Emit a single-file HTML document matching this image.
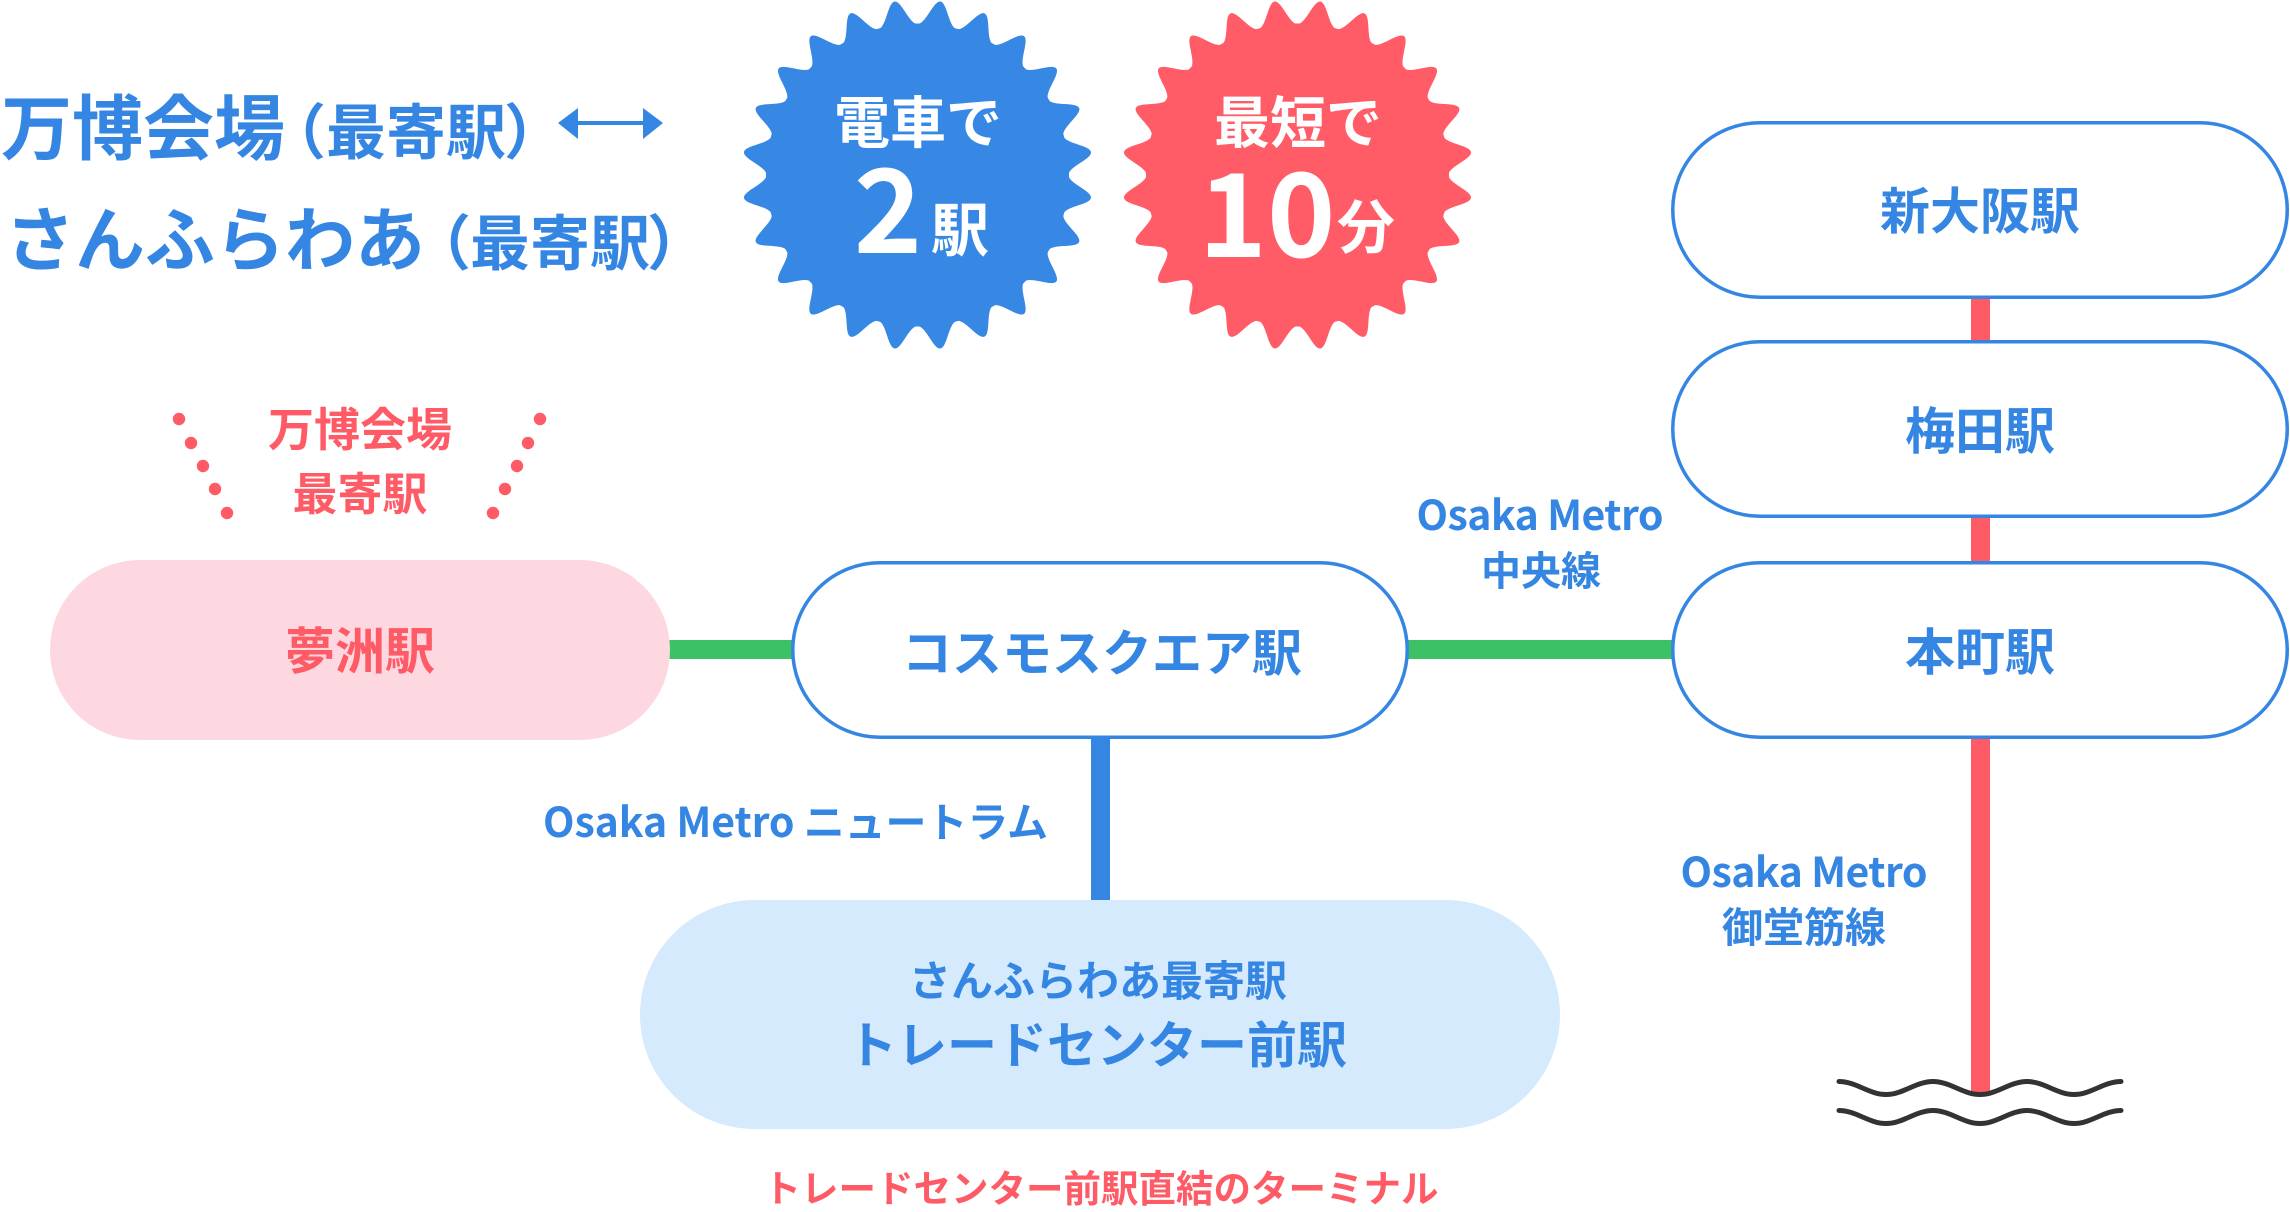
<!DOCTYPE html>
<html>
<head>
<meta charset="utf-8">
<style>
  html, body { margin: 0; padding: 0; background: #ffffff; }
  body { width: 2290px; height: 1212px; overflow: hidden; }
  svg { display: block; }
  text { font-family: "Noto Sans CJK JP", "Liberation Sans", sans-serif; font-weight: 700; }
</style>
</head>
<body>
<svg width="2290" height="1212" viewBox="0 0 2290 1212" xmlns="http://www.w3.org/2000/svg">
  <defs>
    <path id="tip" d="M-19.71,-149.7 C-11.5,-150.8 -7,-175 0,-175 C7,-175 11.5,-150.8 19.71,-149.7 Z"/>
    <g id="burst">
      <circle cx="0" cy="0" r="151.5"/>
      <use href="#tip" transform="rotate(7.5)"/>
      <use href="#tip" transform="rotate(22.5)"/>
      <use href="#tip" transform="rotate(37.5)"/>
      <use href="#tip" transform="rotate(52.5)"/>
      <use href="#tip" transform="rotate(67.5)"/>
      <use href="#tip" transform="rotate(82.5)"/>
      <use href="#tip" transform="rotate(97.5)"/>
      <use href="#tip" transform="rotate(112.5)"/>
      <use href="#tip" transform="rotate(127.5)"/>
      <use href="#tip" transform="rotate(142.5)"/>
      <use href="#tip" transform="rotate(157.5)"/>
      <use href="#tip" transform="rotate(172.5)"/>
      <use href="#tip" transform="rotate(187.5)"/>
      <use href="#tip" transform="rotate(202.5)"/>
      <use href="#tip" transform="rotate(217.5)"/>
      <use href="#tip" transform="rotate(232.5)"/>
      <use href="#tip" transform="rotate(247.5)"/>
      <use href="#tip" transform="rotate(262.5)"/>
      <use href="#tip" transform="rotate(277.5)"/>
      <use href="#tip" transform="rotate(292.5)"/>
      <use href="#tip" transform="rotate(307.5)"/>
      <use href="#tip" transform="rotate(322.5)"/>
      <use href="#tip" transform="rotate(337.5)"/>
      <use href="#tip" transform="rotate(352.5)"/>
    </g>
  </defs>

  <!-- Header text -->
  <g fill="#3586e2">
    <text x="1" y="154" font-size="71">万博会場</text>
    <text x="266" y="154" font-size="60">（</text>
    <text x="326" y="154" font-size="60">最寄駅</text>
    <text x="504" y="154" font-size="60">）</text>

    <text x="5" y="265" font-size="70">さんふらわあ</text>
    <text x="411" y="265" font-size="60">（</text>
    <text x="470" y="265" font-size="60">最寄駅</text>
    <text x="647" y="265" font-size="60">）</text>
  </g>

  <!-- Double arrow -->
  <g fill="#3586e2" stroke="none">
    <rect x="574" y="121" width="72" height="4"/>
    <polygon points="558,123 578,108 578,139"/>
    <polygon points="663,123 643,108 643,139"/>
  </g>

  <!-- Starbursts -->
  <g transform="translate(917.5,175)" fill="#3688e4"><use href="#burst"/></g>
  <g transform="translate(1297.5,175)" fill="#ff5c67"><use href="#burst"/></g>

  <g fill="#ffffff">
    <text x="918" y="143" font-size="56" text-anchor="middle">電車で</text>
    <text x="888" y="253" font-size="116" text-anchor="middle" font-weight="900">2</text>
    <text x="960" y="251" font-size="58" text-anchor="middle">駅</text>

    <text x="1298" y="143" font-size="56" text-anchor="middle">最短で</text>
    <text x="1267" y="257" font-size="116" text-anchor="middle" font-weight="900">10</text>
    <text x="1366" y="248" font-size="58" text-anchor="middle">分</text>
  </g>

  <!-- Connectors -->
  <rect x="1971" y="297" width="19" height="46" fill="#fe5b66"/>
  <rect x="1971" y="516" width="19" height="47" fill="#fe5b66"/>
  <rect x="1971" y="737" width="19" height="356" fill="#fe5b66"/>
  <rect x="668" y="640" width="125" height="19" fill="#3cc264"/>
  <rect x="1407" y="640" width="266" height="19" fill="#3cc264"/>
  <rect x="1091" y="737" width="19" height="166" fill="#3586e2"/>

  <!-- Waves -->
  <g fill="none" stroke="#333333" stroke-width="5" stroke-linecap="round">
    <path d="M1839,1081.5 C1856,1081.5 1869,1094.5 1886,1094.5 C1903,1094.5 1916,1081.5 1933,1081.5 C1950,1081.5 1963,1094.5 1980,1094.5 C1997,1094.5 2010,1081.5 2027,1081.5 C2044,1081.5 2057,1094.5 2074,1094.5 C2091,1094.5 2104,1081.5 2121,1081.5"/>
    <path d="M1839,1110.5 C1856,1110.5 1869,1123.5 1886,1123.5 C1903,1123.5 1916,1110.5 1933,1110.5 C1950,1110.5 1963,1123.5 1980,1123.5 C1997,1123.5 2010,1110.5 2027,1110.5 C2044,1110.5 2057,1123.5 2074,1123.5 C2091,1123.5 2104,1110.5 2121,1110.5"/>
  </g>

  <!-- Outlined stations -->
  <g fill="#ffffff" stroke="#3586e2" stroke-width="3.5">
    <rect x="1672.75" y="122.75" width="614.5" height="174.5" rx="87.25" ry="87.25"/>
    <rect x="1672.75" y="341.75" width="614.5" height="174.5" rx="87.25" ry="87.25"/>
    <rect x="1672.75" y="562.75" width="614.5" height="174.5" rx="87.25" ry="87.25"/>
    <rect x="792.75" y="562.75" width="614.5" height="174.5" rx="87.25" ry="87.25"/>
  </g>

  <!-- Filled stations -->
  <rect x="50" y="560" width="620" height="180" rx="90" ry="90" fill="#fed8e0"/>
  <rect x="640" y="900" width="920" height="229" rx="114.5" ry="114.5" fill="#d5eafd"/>

  <!-- Station labels -->
  <g fill="#3586e2" text-anchor="middle">
    <text x="1980" y="229" font-size="50">新大阪駅</text>
    <text x="1980" y="449" font-size="50">梅田駅</text>
    <text x="1980" y="670" font-size="50">本町駅</text>
    <text x="1102" y="671" font-size="50">コスモスクエア駅</text>
    <text x="1098" y="996" font-size="42">さんふらわあ最寄駅</text>
    <text x="1097" y="1063" font-size="50">トレードセンター前駅</text>
  </g>
  <text x="360" y="669" font-size="50" text-anchor="middle" fill="#fe5b66">夢洲駅</text>

  <!-- Line labels -->
  <g fill="#3586e2">
    <text x="1540" y="530" font-size="41" text-anchor="middle" textLength="247">Osaka Metro</text>
    <text x="1541" y="585" font-size="40" text-anchor="middle">中央線</text>
    <text x="543" y="837" font-size="41" textLength="505">Osaka Metro ニュートラム</text>
    <text x="1804" y="887" font-size="41" text-anchor="middle" textLength="247">Osaka Metro</text>
    <text x="1804" y="942" font-size="41" text-anchor="middle">御堂筋線</text>
  </g>

  <!-- Red annotations -->
  <g fill="#fe5b66">
    <text x="360" y="446" font-size="46" text-anchor="middle">万博会場</text>
    <text x="360" y="510" font-size="45" text-anchor="middle">最寄駅</text>
    <text x="1101" y="1202" font-size="37.5" text-anchor="middle">トレードセンター前駅直結のターミナル</text>
    <circle cx="179" cy="419" r="6.2"/>
    <circle cx="191" cy="443" r="6.2"/>
    <circle cx="203" cy="466" r="6.2"/>
    <circle cx="215" cy="489" r="6.2"/>
    <circle cx="227" cy="513" r="6.2"/>
    <circle cx="540" cy="419" r="6.2"/>
    <circle cx="528" cy="443" r="6.2"/>
    <circle cx="517" cy="466" r="6.2"/>
    <circle cx="505" cy="489" r="6.2"/>
    <circle cx="493" cy="513" r="6.2"/>
  </g>
</svg>
</body>
</html>
